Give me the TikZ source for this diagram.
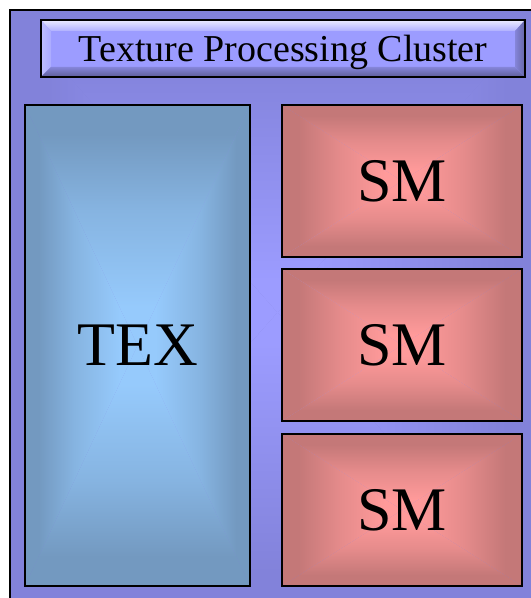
\documentclass[tikz,border=0pt]{standalone}
\usepackage{fontspec}
\setmainfont{Liberation Serif}

\definecolor{bgE}{HTML}{8282DA}
\definecolor{bgC}{HTML}{9C9CFF}
\definecolor{texE}{HTML}{7399C0}
\definecolor{texC}{HTML}{96CAFC}
\definecolor{smE}{HTML}{C47878}
\definecolor{smC}{HTML}{FF9A9A}
\definecolor{ttlC}{HTML}{9C9CFF}

% edge-to-centre ramps used by the box fills
\pgfdeclarehorizontalshading{bgsh}{100bp}{color(0bp)=(bgE);color(25bp)=(bgE);color(32bp)=(bgE);color(70bp)=(bgC);color(100bp)=(bgC)}
\pgfdeclarehorizontalshading{texsh}{100bp}{color(0bp)=(texE);color(25bp)=(texE);color(31bp)=(texE);color(47bp)=(texE!45!texC);color(67bp)=(texC);color(100bp)=(texC)}
\pgfdeclarehorizontalshading{smsh}{100bp}{color(0bp)=(smE);color(25bp)=(smE);color(32bp)=(smE);color(49bp)=(smE!45!smC);color(68bp)=(smC);color(100bp)=(smC)}

% box gradient: four triangles meeting in the centre (x0 y0 x1 y1 shading)
\newcommand\pyrbox[5]{%
  \pgfmathsetmacro\pyrCx{(#1+#3)/2}\pgfmathsetmacro\pyrCy{(#2+#4)/2}%
  \shade[shading=#5,shading angle=0]
    (#1,#2) -- (\pyrCx,\pyrCy) -- (#1,#4) -- cycle;
  \shade[shading=#5,shading angle=180]
    (#3,#2) -- (\pyrCx,\pyrCy) -- (#3,#4) -- cycle;
  \shade[shading=#5,shading angle=270]
    (#1,#2) -- (#3,#2) -- (\pyrCx,\pyrCy) -- cycle;
  \shade[shading=#5,shading angle=90]
    (#1,#4) -- (#3,#4) -- (\pyrCx,\pyrCy) -- cycle;
}

\tikzset{
  panel/.style={draw=black,line width=2bp,inner sep=0pt,fill=none},
  bigtext/.style={font=\fontsize{62bp}{70bp}\selectfont},
}

\begin{document}
\begin{tikzpicture}[x=1bp,y=-1bp]
\useasboundingbox (0,0) rectangle (531,598);
\clip (0,0) rectangle (531,598);

% cluster background
\fill[bgE] (10,10) rectangle (545,615);
\pyrbox{10}{10}{545}{615}{bgsh}
\draw[line width=2bp] (10,620) -- (10,10) -- (560,10);

% title bar with bevelled edges
\fill[ttlC] (41,20) rectangle (525,77);
\shade[top color=white!80!ttlC,bottom color=white!20!ttlC]
  (41,20) -- (525,20) -- (515,31) -- (51,31) -- cycle;
\shade[left color=white!35!ttlC,right color=white!15!ttlC]
  (41,20) -- (51,31) -- (51,67) -- (41,77) -- cycle;
\shade[top color=black!15!ttlC,bottom color=black!40!ttlC]
  (41,77) -- (525,77) -- (515,67) -- (51,67) -- cycle;
\shade[left color=black!15!ttlC,right color=black!35!ttlC]
  (525,20) -- (515,31) -- (515,67) -- (525,77) -- cycle;
\node[panel,minimum width=484bp,minimum height=57bp,
      text height=42bp,text depth=15bp,font=\fontsize{38bp}{40bp}\selectfont]
  (title) at (283,48.5) {Texture Processing Cluster};

% texture unit
\pyrbox{25}{105}{250}{586}{texsh}
\node[panel,bigtext,minimum width=225bp,minimum height=481bp] (tex) at (137.5,345.5) {TEX};

% streaming multiprocessors
\pyrbox{282}{105}{522}{257}{smsh}
\node[panel,bigtext,minimum width=240bp,minimum height=152bp] (sm1) at (402,181) {SM};
\pyrbox{282}{269}{522}{421}{smsh}
\node[panel,bigtext,minimum width=240bp,minimum height=152bp] (sm2) at (402,345) {SM};
\pyrbox{282}{434}{522}{586}{smsh}
\node[panel,bigtext,minimum width=240bp,minimum height=152bp] (sm3) at (402,510) {SM};
\end{tikzpicture}
\end{document}
